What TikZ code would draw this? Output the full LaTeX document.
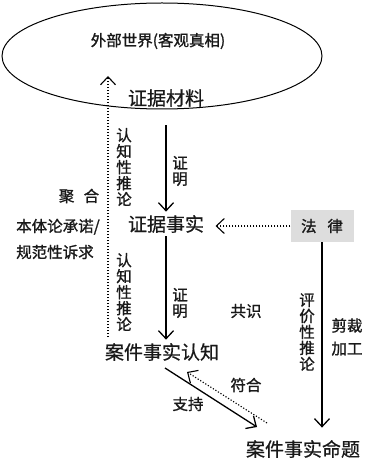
\documentclass[tikz,border=0pt]{standalone}
\usepackage{fontspec}
\setmainfont{Noto Sans CJK SC}
\newfontfamily\cuti[FakeBold=1.2]{Noto Sans CJK SC}
\newfontfamily\zhongti[FakeBold=0.6]{Noto Sans CJK SC}
\usetikzlibrary{arrows.meta,shapes.geometric}
\definecolor{tuhui}{RGB}{221,221,221}
\tikzset{
  zi/.style={font=\zhongti\fontsize{19}{20}\selectfont, text=black!90},
  xiao/.style={font=\cuti\fontsize{15.5}{16}\selectfont, text=black!90, inner sep=0pt, align=center},
  jian/.style={-{Straight Barb[length=8pt,width=15pt]}, line width=1.3pt},
  dian/.style={jian, dash pattern=on 1.2pt off 1.8pt, line width=1.1pt}
}
\begin{document}
\begin{tikzpicture}[x=1pt,y=-1pt]
\useasboundingbox (0,0) rectangle (371,462);
% 外部世界
\node[draw, ellipse, line width=1pt, minimum width=320pt, minimum height=106pt, inner sep=0pt] (sj) at (162,56) {};
\node[xiao] (wb) at (158,41) {外部世界(客观真相)};
\node[zi] (cl) at (166,98) {证据材料};
% 事实
\node[zi] (zs) at (166,224) {证据事实};
\node[zi] (rz) at (162,352) {案件事实认知};
\node[zi] (mt) at (303,449) {案件事实命题};
\node[xiao, fill=tuhui, minimum width=63pt, minimum height=32pt] (fl) at (322,226) {法\hspace{0.7em}律};
% 箭头
\coordinate (up0) at (108,337);
\coordinate (up1) at (108,76);
\draw[dian] (up0) -- (up1);
\draw[jian, shorten <=15pt] (cl.south) -- (cl.south |- zs.north);
\draw[jian] (zs.south) -- (zs.south |- rz.north);
\draw[dian, shorten >=8pt] (fl.west) -- (fl.west -| zs.east);
\draw[jian, shorten >=9pt] (fl.south) -- (fl.south |- mt.north);
\draw[jian] ([shift={(3,16)}]rz.center) -- ([shift={(-46,-22)}]mt.center);
\draw[dian] ([shift={(-36,-26)}]mt.center) -- ([shift={(25,20)}]rz.center);
% 标注
\node[xiao] (tl1) at (124,167) {认\\知\\性\\推\\论};
\node[xiao] (zm1) at (180,171) {证\\明};
\node[xiao] (tl2) at (124,292) {认\\知\\性\\推\\论};
\node[xiao] (zm2) at (180,303) {证\\明};
\node[xiao] (jh) at (79,196) {聚\hspace{0.6em}合};
\node[xiao, font=\cuti\fontsize{15.5}{26}\selectfont, align=left, anchor=west] (bt) at (16,239) {本体论承诺/\\规范性诉求};
\node[xiao] (gs) at (246,311) {共识};
\node[xiao] (pj) at (307,332) {评\\价\\性\\推\\论};
\node[xiao, font=\cuti\fontsize{15.5}{23}\selectfont] (jc) at (347,337) {剪裁\\加工};
\node[xiao] (fh) at (246,385) {符合};
\node[xiao] (zc) at (188,404) {支持};
\end{tikzpicture}
\end{document}
